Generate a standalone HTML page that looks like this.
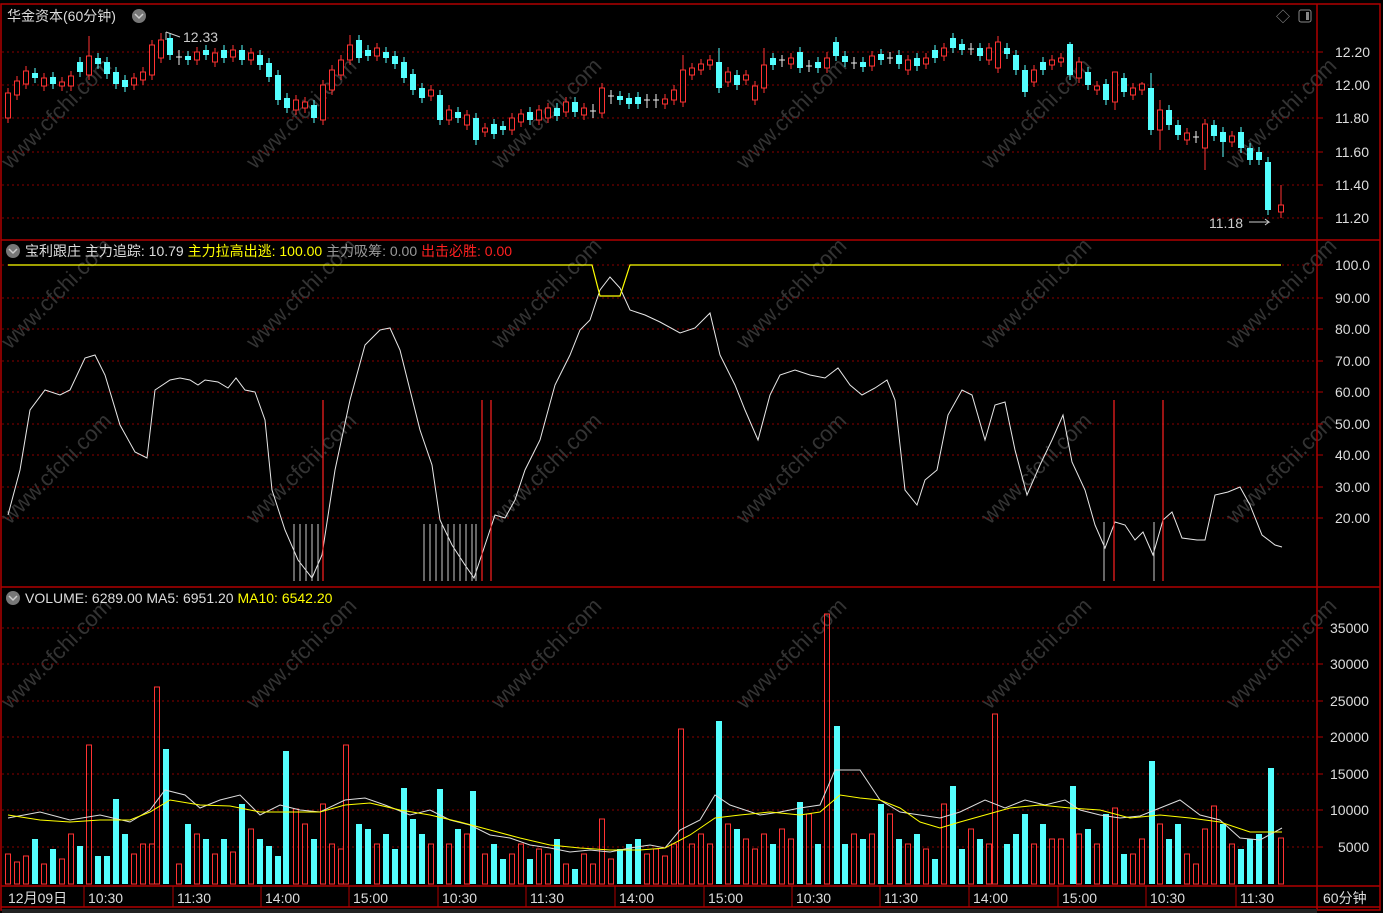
<!DOCTYPE html>
<html><head><meta charset="utf-8"><style>
html,body{margin:0;padding:0;background:#000;width:1383px;height:913px;overflow:hidden}
svg{display:block;font-family:"Liberation Sans","Noto Sans CJK SC",sans-serif}
</style></head><body>
<svg width="1383" height="913" xmlns="http://www.w3.org/2000/svg">
<rect width="1383" height="913" fill="#000"/>
<g fill="#333" font-size="22">
<text x="10" y="170" transform="rotate(-45 10 170)">www.cfchi.com</text>
<text x="255" y="170" transform="rotate(-45 255 170)">www.cfchi.com</text>
<text x="500" y="170" transform="rotate(-45 500 170)">www.cfchi.com</text>
<text x="745" y="170" transform="rotate(-45 745 170)">www.cfchi.com</text>
<text x="990" y="170" transform="rotate(-45 990 170)">www.cfchi.com</text>
<text x="1235" y="170" transform="rotate(-45 1235 170)">www.cfchi.com</text>
<text x="10" y="350" transform="rotate(-45 10 350)">www.cfchi.com</text>
<text x="255" y="350" transform="rotate(-45 255 350)">www.cfchi.com</text>
<text x="500" y="350" transform="rotate(-45 500 350)">www.cfchi.com</text>
<text x="745" y="350" transform="rotate(-45 745 350)">www.cfchi.com</text>
<text x="990" y="350" transform="rotate(-45 990 350)">www.cfchi.com</text>
<text x="1235" y="350" transform="rotate(-45 1235 350)">www.cfchi.com</text>
<text x="10" y="525" transform="rotate(-45 10 525)">www.cfchi.com</text>
<text x="255" y="525" transform="rotate(-45 255 525)">www.cfchi.com</text>
<text x="500" y="525" transform="rotate(-45 500 525)">www.cfchi.com</text>
<text x="745" y="525" transform="rotate(-45 745 525)">www.cfchi.com</text>
<text x="990" y="525" transform="rotate(-45 990 525)">www.cfchi.com</text>
<text x="1235" y="525" transform="rotate(-45 1235 525)">www.cfchi.com</text>
<text x="10" y="710" transform="rotate(-45 10 710)">www.cfchi.com</text>
<text x="255" y="710" transform="rotate(-45 255 710)">www.cfchi.com</text>
<text x="500" y="710" transform="rotate(-45 500 710)">www.cfchi.com</text>
<text x="745" y="710" transform="rotate(-45 745 710)">www.cfchi.com</text>
<text x="990" y="710" transform="rotate(-45 990 710)">www.cfchi.com</text>
<text x="1235" y="710" transform="rotate(-45 1235 710)">www.cfchi.com</text>
</g>
<path stroke="#8a0000" stroke-dasharray="2,3" fill="none" d="M2 52H1316M2 85H1316M2 118H1316M2 152H1316M2 185H1316M2 218H1316M2 265H1316M2 298H1316M2 329H1316M2 361H1316M2 392H1316M2 424H1316M2 455H1316M2 487H1316M2 518H1316M2 628H1316M2 664H1316M2 701H1316M2 737H1316M2 774H1316M2 810H1316M2 847H1316"/>

<!-- candles -->
<path stroke="#ff3232" fill="none" d="M8 88V123M17 76V100M26 66V89M44 73V91M62 77V91M71 71V91M89 36V80M134 73V90M143 67V85M152 40V80M161 33V63M197 47V65M215 48V67M233 45V62M251 48V65M296 95V115M305 97V113M323 80V125M332 65V95M341 55V80M350 35V65M377 43V61M431 85V101M449 105V125M467 110V130M485 123V137M512 113V135M521 109V127M539 105V125M548 103V123M566 97V117M584 103V120M602 83V118M665 94V109M674 85V105M683 55V107M692 63V80M701 59V75M710 55V70M728 67V87M746 70V85M755 81V105M764 48V93M791 53V69M827 52V73M872 51V71M908 55V75M926 53V69M944 43V61M989 43V65M998 36V73M1034 65V87M1052 55V70M1061 53V67M1079 57V83M1097 81V95M1115 72V110M1133 83V100M1142 82V95M1160 100V150M1187 128V145M1205 119V170M1232 131V147M1281 185V218"/>
<g fill="#000" stroke="#ff3232">
<rect x="5.5" y="93" width="5" height="25"/><rect x="14.5" y="81" width="5" height="14"/><rect x="23.5" y="71" width="5" height="13"/><rect x="41.5" y="78" width="5" height="8"/><rect x="59.5" y="82" width="5" height="4"/><rect x="68.5" y="76" width="5" height="10"/><rect x="86.5" y="56" width="5" height="19"/><rect x="131.5" y="78" width="5" height="7"/><rect x="140.5" y="72" width="5" height="8"/><rect x="149.5" y="45" width="5" height="30"/><rect x="158.5" y="40" width="5" height="18"/><rect x="194.5" y="52" width="5" height="8"/><rect x="212.5" y="53" width="5" height="9"/><rect x="230.5" y="50" width="5" height="7"/><rect x="248.5" y="53" width="5" height="7"/><rect x="293.5" y="100" width="5" height="10"/><rect x="302.5" y="102" width="5" height="6"/><rect x="320.5" y="85" width="5" height="35"/><rect x="329.5" y="70" width="5" height="20"/><rect x="338.5" y="60" width="5" height="15"/><rect x="347.5" y="45" width="5" height="15"/><rect x="374.5" y="48" width="5" height="8"/><rect x="428.5" y="90" width="5" height="6"/><rect x="446.5" y="110" width="5" height="10"/><rect x="464.5" y="115" width="5" height="10"/><rect x="482.5" y="128" width="5" height="4"/><rect x="509.5" y="118" width="5" height="12"/><rect x="518.5" y="114" width="5" height="8"/><rect x="536.5" y="110" width="5" height="10"/><rect x="545.5" y="108" width="5" height="10"/><rect x="563.5" y="102" width="5" height="10"/><rect x="581.5" y="108" width="5" height="7"/><rect x="599.5" y="88" width="5" height="25"/><rect x="662.5" y="99" width="5" height="5"/><rect x="671.5" y="90" width="5" height="10"/><rect x="680.5" y="70" width="5" height="32"/><rect x="689.5" y="68" width="5" height="7"/><rect x="698.5" y="64" width="5" height="6"/><rect x="707.5" y="60" width="5" height="5"/><rect x="725.5" y="72" width="5" height="10"/><rect x="743.5" y="75" width="5" height="5"/><rect x="752.5" y="86" width="5" height="14"/><rect x="761.5" y="65" width="5" height="23"/><rect x="788.5" y="58" width="5" height="6"/><rect x="824.5" y="58" width="5" height="10"/><rect x="869.5" y="56" width="5" height="10"/><rect x="905.5" y="60" width="5" height="10"/><rect x="923.5" y="58" width="5" height="6"/><rect x="941.5" y="48" width="5" height="8"/><rect x="986.5" y="48" width="5" height="12"/><rect x="995.5" y="42" width="5" height="26"/><rect x="1031.5" y="70" width="5" height="12"/><rect x="1049.5" y="60" width="5" height="5"/><rect x="1058.5" y="58" width="5" height="4"/><rect x="1076.5" y="62" width="5" height="16"/><rect x="1094.5" y="86" width="5" height="4"/><rect x="1112.5" y="72" width="5" height="30"/><rect x="1130.5" y="88" width="5" height="7"/><rect x="1139.5" y="84" width="5" height="6"/><rect x="1157.5" y="110" width="5" height="20"/><rect x="1184.5" y="133" width="5" height="7"/><rect x="1202.5" y="124" width="5" height="24"/><rect x="1229.5" y="136" width="5" height="6"/><rect x="1278.5" y="205" width="5" height="7"/>
</g>
<path stroke="#54ffff" fill="none" d="M35 68V83M53 72V89M80 57V77M98 53V69M107 57V79M116 67V89M125 75V92M170 33V60M188 51V65M206 45V60M224 45V63M242 45V65M260 50V70M269 58V82M278 70V105M287 93V113M314 100V123M359 35V63M368 45V61M386 47V63M395 51V69M404 57V83M413 69V95M422 83V103M440 90V125M458 107V123M476 113V145M494 119V139M503 121V135M530 107V125M557 103V121M575 97V117M620 91V105M629 93V109M638 92V109M719 48V93M737 70V90M773 53V70M800 47V73M818 57V73M836 37V61M845 51V67M863 57V72M881 49V65M899 50V69M917 53V71M935 45V63M953 33V53M962 39V55M980 43V61M1007 43V59M1016 50V75M1025 65V97M1043 57V75M1070 42V80M1088 67V90M1106 79V105M1124 73V97M1151 73V135M1169 105V130M1178 120V140M1214 120V141M1223 127V157M1241 127V153M1250 143V165M1259 147V165M1268 157V215"/>
<g fill="#54ffff">
<rect x="32" y="73" width="6" height="5"/><rect x="50" y="77" width="6" height="7"/><rect x="77" y="62" width="6" height="10"/><rect x="95" y="58" width="6" height="6"/><rect x="104" y="62" width="6" height="12"/><rect x="113" y="72" width="6" height="12"/><rect x="122" y="80" width="6" height="7"/><rect x="167" y="38" width="6" height="17"/><rect x="185" y="56" width="6" height="4"/><rect x="203" y="50" width="6" height="5"/><rect x="221" y="50" width="6" height="8"/><rect x="239" y="50" width="6" height="10"/><rect x="257" y="55" width="6" height="10"/><rect x="266" y="63" width="6" height="14"/><rect x="275" y="75" width="6" height="25"/><rect x="284" y="98" width="6" height="10"/><rect x="311" y="105" width="6" height="13"/><rect x="356" y="40" width="6" height="18"/><rect x="365" y="50" width="6" height="6"/><rect x="383" y="52" width="6" height="6"/><rect x="392" y="56" width="6" height="8"/><rect x="401" y="62" width="6" height="16"/><rect x="410" y="74" width="6" height="16"/><rect x="419" y="88" width="6" height="10"/><rect x="437" y="95" width="6" height="25"/><rect x="455" y="112" width="6" height="6"/><rect x="473" y="118" width="6" height="22"/><rect x="491" y="124" width="6" height="10"/><rect x="500" y="126" width="6" height="4"/><rect x="527" y="112" width="6" height="8"/><rect x="554" y="108" width="6" height="8"/><rect x="572" y="102" width="6" height="10"/><rect x="617" y="96" width="6" height="4"/><rect x="626" y="98" width="6" height="6"/><rect x="635" y="97" width="6" height="7"/><rect x="716" y="62" width="6" height="26"/><rect x="734" y="75" width="6" height="10"/><rect x="770" y="58" width="6" height="7"/><rect x="797" y="52" width="6" height="16"/><rect x="815" y="62" width="6" height="6"/><rect x="833" y="42" width="6" height="14"/><rect x="842" y="56" width="6" height="6"/><rect x="860" y="62" width="6" height="5"/><rect x="878" y="54" width="6" height="6"/><rect x="896" y="55" width="6" height="9"/><rect x="914" y="58" width="6" height="8"/><rect x="932" y="50" width="6" height="8"/><rect x="950" y="38" width="6" height="10"/><rect x="959" y="44" width="6" height="6"/><rect x="977" y="48" width="6" height="8"/><rect x="1004" y="48" width="6" height="6"/><rect x="1013" y="55" width="6" height="15"/><rect x="1022" y="70" width="6" height="22"/><rect x="1040" y="62" width="6" height="8"/><rect x="1067" y="44" width="6" height="31"/><rect x="1085" y="72" width="6" height="13"/><rect x="1103" y="84" width="6" height="16"/><rect x="1121" y="78" width="6" height="14"/><rect x="1148" y="88" width="6" height="42"/><rect x="1166" y="110" width="6" height="15"/><rect x="1175" y="125" width="6" height="10"/><rect x="1211" y="125" width="6" height="11"/><rect x="1220" y="132" width="6" height="10"/><rect x="1238" y="132" width="6" height="16"/><rect x="1247" y="148" width="6" height="12"/><rect x="1256" y="152" width="6" height="8"/><rect x="1265" y="162" width="6" height="48"/>
</g>
<path stroke="#eee" fill="none" d="M179 50V65M176 57H182M593 104V118M590 111H596M611 90V104M608 96H614M647 94V108M644 100H650M656 94V108M653 100H659M782 55V67M779 60H785M809 60V72M806 66H812M854 57V69M851 63H857M890 52V64M887 58H893M971 43V55M968 49H974M1196 131V143M1193 137H1199"/>

<!-- indicator -->
<path fill="none" stroke="#e8e8e8" d="M8 515L20 470L30 410L45 390L60 395L70 390L85 358L95 355L105 375L120 425L135 452L147 458L155 390L170 380L180 378L190 380L198 385L205 380L218 382L228 388L236 378L245 390L255 392L265 420L272 490L285 530L298 560L312 578L322 555L335 470L350 400L365 345L380 330L390 328L400 350L410 390L420 430L432 465L440 520L452 545L465 565L474 578L485 545L495 515L505 518L515 500L525 470L540 440L555 385L570 355L580 330L590 320L600 290L610 277L620 288L630 310L645 315L660 322L680 333L695 328L710 313L720 355L735 385L745 410L758 440L770 395L780 375L795 370L810 375L825 378L838 368L850 385L862 395L875 388L887 380L895 400L905 490L917 505L925 480L937 470L948 415L962 390L972 395L985 440L995 405L1005 402L1015 450L1027 495L1040 465L1052 440L1063 415L1072 462L1085 490L1095 525L1105 548L1115 522L1125 525L1135 540L1143 532L1153 555L1163 520L1172 512L1182 538L1197 540L1205 540L1215 495L1228 492L1240 487L1250 505L1262 535L1275 545L1282 547"/>
<path fill="none" stroke="#ffff00" stroke-width="1.2" d="M8 265H592L600 296H620L630 265H1281"/>
<path fill="none" stroke="#ccc" d="M294 524V581M300 524V581M306 524V581M312 524V581M318 524V581M424 524V581M430 524V581M436 524V581M442 524V581M448 524V581M454 524V581M460 524V581M466 524V581M472 524V581M476 524V581M1104 522V581M1154 522V581"/>
<path fill="none" stroke="#ff2020" stroke-width="1.2" d="M323 400V581M482 400V581M491 400V581M1114 400V581M1163 400V581"/>

<!-- volume -->
<g fill="none" stroke="#ff3232">
<rect x="5.5" y="854" width="5" height="30"/><rect x="14.5" y="862" width="5" height="22"/><rect x="23.5" y="856" width="5" height="28"/><rect x="41.5" y="864" width="5" height="20"/><rect x="59.5" y="859" width="5" height="25"/><rect x="68.5" y="834" width="5" height="50"/><rect x="86.5" y="745" width="5" height="139"/><rect x="131.5" y="854" width="5" height="30"/><rect x="140.5" y="844" width="5" height="40"/><rect x="149.5" y="844" width="5" height="40"/><rect x="154.5" y="687" width="5" height="197"/><rect x="194.5" y="834" width="5" height="50"/><rect x="212.5" y="854" width="5" height="30"/><rect x="230.5" y="852" width="5" height="32"/><rect x="248.5" y="829" width="5" height="55"/><rect x="293.5" y="809" width="5" height="75"/><rect x="302.5" y="824" width="5" height="60"/><rect x="320.5" y="804" width="5" height="80"/><rect x="329.5" y="844" width="5" height="40"/><rect x="338.5" y="849" width="5" height="35"/><rect x="343.5" y="745" width="5" height="139"/><rect x="374.5" y="844" width="5" height="40"/><rect x="428.5" y="844" width="5" height="40"/><rect x="446.5" y="844" width="5" height="40"/><rect x="464.5" y="834" width="5" height="50"/><rect x="482.5" y="854" width="5" height="30"/><rect x="509.5" y="854" width="5" height="30"/><rect x="518.5" y="844" width="5" height="40"/><rect x="536.5" y="849" width="5" height="35"/><rect x="545.5" y="854" width="5" height="30"/><rect x="563.5" y="864" width="5" height="20"/><rect x="581.5" y="854" width="5" height="30"/><rect x="599.5" y="819" width="5" height="65"/><rect x="662.5" y="856" width="5" height="28"/><rect x="671.5" y="844" width="5" height="40"/><rect x="678.5" y="729" width="5" height="155"/><rect x="689.5" y="844" width="5" height="40"/><rect x="698.5" y="834" width="5" height="50"/><rect x="707.5" y="844" width="5" height="40"/><rect x="725.5" y="824" width="5" height="60"/><rect x="743.5" y="839" width="5" height="45"/><rect x="752.5" y="849" width="5" height="35"/><rect x="761.5" y="834" width="5" height="50"/><rect x="788.5" y="839" width="5" height="45"/><rect x="824.5" y="614" width="5" height="270"/><rect x="869.5" y="834" width="5" height="50"/><rect x="905.5" y="844" width="5" height="40"/><rect x="923.5" y="849" width="5" height="35"/><rect x="941.5" y="804" width="5" height="80"/><rect x="986.5" y="844" width="5" height="40"/><rect x="992.5" y="714" width="5" height="170"/><rect x="1031.5" y="844" width="5" height="40"/><rect x="1049.5" y="839" width="5" height="45"/><rect x="1058.5" y="839" width="5" height="45"/><rect x="1076.5" y="834" width="5" height="50"/><rect x="1094.5" y="844" width="5" height="40"/><rect x="1112.5" y="808" width="5" height="76"/><rect x="1130.5" y="854" width="5" height="30"/><rect x="1139.5" y="839" width="5" height="45"/><rect x="1157.5" y="824" width="5" height="60"/><rect x="1184.5" y="854" width="5" height="30"/><rect x="1202.5" y="829" width="5" height="55"/><rect x="1211.5" y="806" width="5" height="78"/><rect x="1229.5" y="844" width="5" height="40"/><rect x="1278.5" y="838" width="5" height="46"/>
<rect x="176.5" y="864" width="5" height="20"/><rect x="590.5" y="864" width="5" height="20"/><rect x="608.5" y="859" width="5" height="25"/><rect x="644.5" y="854" width="5" height="30"/><rect x="653.5" y="849" width="5" height="35"/><rect x="779.5" y="829" width="5" height="55"/><rect x="806.5" y="814" width="5" height="70"/><rect x="851.5" y="834" width="5" height="50"/><rect x="887.5" y="814" width="5" height="70"/><rect x="968.5" y="829" width="5" height="55"/><rect x="1193.5" y="864" width="5" height="20"/>
</g>
<g fill="#54ffff">
<rect x="32" y="839" width="6" height="45"/><rect x="50" y="849" width="6" height="35"/><rect x="77" y="846" width="6" height="38"/><rect x="95" y="856" width="6" height="28"/><rect x="104" y="856" width="6" height="28"/><rect x="113" y="799" width="6" height="85"/><rect x="122" y="834" width="6" height="50"/><rect x="163" y="749" width="6" height="135"/><rect x="185" y="824" width="6" height="60"/><rect x="203" y="839" width="6" height="45"/><rect x="221" y="839" width="6" height="45"/><rect x="239" y="804" width="6" height="80"/><rect x="257" y="839" width="6" height="45"/><rect x="266" y="846" width="6" height="38"/><rect x="275" y="856" width="6" height="28"/><rect x="283" y="751" width="6" height="133"/><rect x="311" y="839" width="6" height="45"/><rect x="356" y="824" width="6" height="60"/><rect x="365" y="829" width="6" height="55"/><rect x="383" y="834" width="6" height="50"/><rect x="392" y="849" width="6" height="35"/><rect x="401" y="788" width="6" height="96"/><rect x="410" y="819" width="6" height="65"/><rect x="419" y="834" width="6" height="50"/><rect x="437" y="789" width="6" height="95"/><rect x="455" y="829" width="6" height="55"/><rect x="470" y="791" width="6" height="93"/><rect x="491" y="844" width="6" height="40"/><rect x="500" y="859" width="6" height="25"/><rect x="527" y="859" width="6" height="25"/><rect x="554" y="839" width="6" height="45"/><rect x="572" y="869" width="6" height="15"/><rect x="617" y="849" width="6" height="35"/><rect x="626" y="844" width="6" height="40"/><rect x="635" y="839" width="6" height="45"/><rect x="716" y="721" width="6" height="163"/><rect x="734" y="829" width="6" height="55"/><rect x="770" y="844" width="6" height="40"/><rect x="797" y="802" width="6" height="82"/><rect x="815" y="844" width="6" height="40"/><rect x="834" y="726" width="6" height="158"/><rect x="842" y="844" width="6" height="40"/><rect x="860" y="839" width="6" height="45"/><rect x="878" y="804" width="6" height="80"/><rect x="896" y="839" width="6" height="45"/><rect x="914" y="834" width="6" height="50"/><rect x="932" y="859" width="6" height="25"/><rect x="950" y="786" width="6" height="98"/><rect x="959" y="849" width="6" height="35"/><rect x="977" y="839" width="6" height="45"/><rect x="1004" y="844" width="6" height="40"/><rect x="1013" y="834" width="6" height="50"/><rect x="1022" y="814" width="6" height="70"/><rect x="1040" y="824" width="6" height="60"/><rect x="1070" y="786" width="6" height="98"/><rect x="1085" y="829" width="6" height="55"/><rect x="1103" y="814" width="6" height="70"/><rect x="1121" y="854" width="6" height="30"/><rect x="1149" y="761" width="6" height="123"/><rect x="1166" y="839" width="6" height="45"/><rect x="1175" y="824" width="6" height="60"/><rect x="1220" y="824" width="6" height="60"/><rect x="1238" y="849" width="6" height="35"/><rect x="1247" y="839" width="6" height="45"/><rect x="1256" y="834" width="6" height="50"/><rect x="1268" y="768" width="6" height="116"/>
</g>
<path fill="none" stroke="#ddd" d="M8 818L40 812L70 820L100 815L130 822L150 810L165 790L185 795L200 808L220 800L240 795L260 815L280 805L300 810L320 812L345 800L365 798L385 805L410 815L430 810L450 820L470 825L490 835L510 838L530 845L550 848L570 852L590 850L610 852L630 848L650 845L665 848L680 830L700 820L715 795L730 805L760 815L780 812L800 808L820 805L835 770L860 770L880 800L900 812L920 815L940 818L960 812L985 800L1005 808L1025 800L1045 805L1065 800L1080 810L1100 815L1120 818L1140 816L1160 808L1180 800L1200 815L1220 820L1240 838L1260 840L1282 828"/>
<path fill="none" stroke="#ffff00" d="M8 815L40 820L70 822L100 820L130 820L150 812L170 800L200 805L230 806L260 812L290 812L320 812L345 805L370 803L400 810L430 815L460 822L490 830L520 838L550 845L580 848L610 850L640 850L665 848L690 835L715 818L740 815L770 812L800 815L820 812L840 795L860 798L880 800L900 808L920 822L940 828L960 822L985 815L1010 808L1040 805L1070 808L1100 810L1130 818L1160 815L1190 818L1220 822L1250 832L1282 832"/>

<!-- frame -->
<g fill="none" stroke="#b00000" stroke-width="1.5">
<rect x="1" y="4" width="1379" height="906"/>
<line x1="1317" y1="4" x2="1317" y2="910"/>
<line x1="1" y1="240" x2="1380" y2="240"/>
<line x1="1" y1="587" x2="1380" y2="587"/>
<line x1="1" y1="886" x2="1380" y2="886"/>
<line x1="1" y1="907" x2="1380" y2="907"/>
</g>
<rect x="2" y="909" width="1315" height="4" fill="#222"/>
<path stroke="#b00000" d="M1317 52h6M1317 85h6M1317 118h6M1317 152h6M1317 185h6M1317 218h6M1317 265h6M1317 298h6M1317 329h6M1317 361h6M1317 392h6M1317 424h6M1317 455h6M1317 487h6M1317 518h6M1317 628h6M1317 664h6M1317 701h6M1317 737h6M1317 774h6M1317 810h6M1317 847h6M84 886v21M173 886v21M261 886v21M349 886v21M438 886v21M526 886v21M615 886v21M704 886v21M792 886v21M880 886v21M969 886v21M1058 886v21M1146 886v21M1236 886v21"/>
<g fill="#ddd" font-size="14">
<text x="1335" y="57">12.20</text><text x="1335" y="90">12.00</text><text x="1335" y="123">11.80</text><text x="1335" y="157">11.60</text><text x="1335" y="190">11.40</text><text x="1335" y="223">11.20</text>
<text x="1335" y="270">100.0</text><text x="1335" y="303">90.00</text><text x="1335" y="334">80.00</text><text x="1335" y="366">70.00</text><text x="1335" y="397">60.00</text><text x="1335" y="429">50.00</text><text x="1335" y="460">40.00</text><text x="1335" y="492">30.00</text><text x="1335" y="523">20.00</text>
<text x="1330" y="633">35000</text><text x="1330" y="669">30000</text><text x="1330" y="706">25000</text><text x="1330" y="742">20000</text><text x="1330" y="779">15000</text><text x="1330" y="815">10000</text><text x="1338" y="852">5000</text>
<text x="8" y="903">12月09日</text><text x="88" y="903">10:30</text><text x="177" y="903">11:30</text><text x="265" y="903">14:00</text><text x="353" y="903">15:00</text><text x="442" y="903">10:30</text><text x="530" y="903">11:30</text><text x="619" y="903">14:00</text><text x="708" y="903">15:00</text><text x="796" y="903">10:30</text><text x="884" y="903">11:30</text><text x="973" y="903">14:00</text><text x="1062" y="903">15:00</text><text x="1150" y="903">10:30</text><text x="1240" y="903">11:30</text><text x="1323" y="903">60分钟</text>
</g>
<g font-size="14">
<text x="7" y="21" fill="#ddd">华金资本(60分钟)</text>
<circle cx="139" cy="16" r="7" fill="#777"/><path d="M135 14l4 4 4-4" stroke="#ccc" fill="none" stroke-width="1.5"/>
<text x="1276" y="22" fill="#888">◇</text>
<rect x="1299" y="10" width="12" height="12" fill="none" stroke="#888" rx="2"/><rect x="1306" y="12" width="3" height="8" fill="#888"/>
<text x="183" y="42" fill="#ccc">12.33</text>
<path d="M166 32v8M166 32l14 5" stroke="#ccc" fill="none"/>
<text x="1209" y="228" fill="#ccc">11.18</text>
<path d="M1249 222h20l-4-3M1269 222l-4 3" stroke="#ccc" fill="none"/>
<circle cx="13" cy="251" r="7" fill="#777"/><path d="M9 249l4 4 4-4" stroke="#ccc" fill="none" stroke-width="1.5"/>
<text x="25" y="256"><tspan fill="#ddd">宝利跟庄  主力追踪: 10.79 </tspan><tspan fill="#ffff00">主力拉高出逃: 100.00 </tspan><tspan fill="#999">主力吸筹: 0.00 </tspan><tspan fill="#ff2020">出击必胜: 0.00</tspan></text>
<circle cx="13" cy="598" r="7" fill="#777"/><path d="M9 596l4 4 4-4" stroke="#ccc" fill="none" stroke-width="1.5"/>
<text x="25" y="603"><tspan fill="#ddd">VOLUME: 6289.00  MA5: 6951.20 </tspan><tspan fill="#ffff00">MA10: 6542.20</tspan></text>
</g>
</svg>
</body></html>
